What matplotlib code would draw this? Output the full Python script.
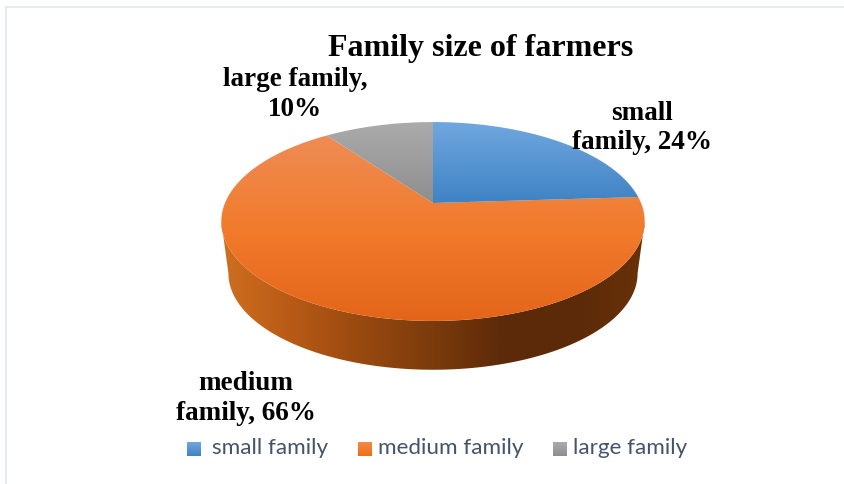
import numpy as np
import matplotlib
matplotlib.use('Agg')
import matplotlib.pyplot as plt
from matplotlib.colors import LinearSegmentedColormap
from matplotlib.patches import Polygon

categories = ['small family', 'medium family', 'large family']
shares = [24, 66, 10]
title = 'Family size of farmers'

# vertical shading for each slice, light to dark
TOP_COLORS = [('#70a7df', '#3f83c4'),
              ('#ee8c55', '#f27b2c', '#e3651a'),
              ('#ababab', '#8e8e8e')]
LEGEND_COLORS = [('#70a7df', '#3f83c4'), ('#f58a48', '#ee6d16'), ('#ababab', '#8e8e8e')]
SIDE_COLORS = ['#cf6f20', '#b85a16', '#98490f', '#7b3b0c', '#5c2a08', '#5c2a08', '#683209']

# perspective disc, in pixels
CX, APEX_Y = 433.0, 203.0
RX, RY, TILT = 208.0, 96.0, 0.186
LOWER_RX, LOWER_RY, LOWER_APEX_Y = 201.0, 93.0, 255.5

TEXT_FONT = 'Liberation Serif'
LEGEND_FONT = 'Lato'


def project(theta, rx=RX, ry=RY, apex_y=APEX_Y):
    # theta runs clockwise from the back of the disc
    u, v = np.sin(theta), np.cos(theta)
    den = 1 + TILT * v
    return CX + rx * u / den, apex_y - ry * v / den


def gradient_patch(ax, verts, colors, horizontal=False, extent=None, zorder=1):
    verts = np.asarray(verts)
    poly = Polygon(verts, closed=True, fc='none', ec='none', transform=ax.transData)
    ax.add_patch(poly)
    cmap = LinearSegmentedColormap.from_list('shade', colors)
    ramp = np.linspace(0, 1, 256)
    ramp = ramp[None, :] if horizontal else ramp[:, None]
    if extent is None:
        extent = [verts[:, 0].min(), verts[:, 0].max(), verts[:, 1].max(), verts[:, 1].min()]
    im = ax.imshow(ramp, cmap=cmap, extent=extent, aspect='auto', origin='upper',
                   interpolation='bilinear', zorder=zorder)
    im.set_clip_path(poly)
    return im


fig = plt.figure(figsize=(8.44, 4.84), dpi=100)
ax = fig.add_axes([0, 0, 1, 1])

# chart frame: only the top and left edges fall inside the canvas
ax.plot([6, 6], [484, 7], color='#e1e7f0', lw=1.2, zorder=0)
ax.plot([6, 844], [7, 7], color='#e3e7ea', lw=1.2, zorder=0)

# rim of the disc, front half only
start = np.arccos(-TILT)
front = np.linspace(start, 2 * np.pi - start, 200)
tx, ty = project(front)
bx, by = project(front, LOWER_RX, LOWER_RY, LOWER_APEX_Y)
rim = np.r_[np.c_[tx, ty], np.c_[bx, by][::-1]]
gradient_patch(ax, rim, SIDE_COLORS, horizontal=True,
               extent=[tx.min(), tx.max(), by.max(), ty.min()], zorder=1)

# slices
edges = np.r_[0, np.cumsum(shares)] / np.sum(shares) * 2 * np.pi
for i, share in enumerate(shares):
    theta = np.linspace(edges[i], edges[i + 1], 200)
    x, y = project(theta)
    verts = np.r_[[[CX, APEX_Y]], np.c_[x, y]]
    gradient_patch(ax, verts, TOP_COLORS[i], zorder=2 + (i != 1))

ax.text(481, 48.5, title, family=TEXT_FONT, weight='bold', fontsize=23,
        ha='center', va='center', color='black')

label_pos = [(642, 128), (246, 398.5), (295, 94.5)]
label_text = ['small\nfamily, %d%%', 'medium\nfamily, %d%%', 'large family,\n%d%%']
for txt, share, (lx, ly) in zip(label_text, shares, label_pos):
    ax.text(lx, ly, txt % share, family=TEXT_FONT, weight='bold', fontsize=19.5,
            ha='center', va='center', linespacing=1.26, color='black')

# legend
legend_box = [187, 357.5, 553]
legend_txt = [212, 377.5, 573]
for name, bx0, tx0, cols in zip(categories, legend_box, legend_txt, LEGEND_COLORS):
    gradient_patch(ax, [[bx0, 442], [bx0 + 14, 442], [bx0 + 14, 456], [bx0, 456]], cols, zorder=2)
    ax.text(tx0, 448, name, family=LEGEND_FONT, fontsize=16.2, color='#44546a',
            ha='left', va='center')

ax.set_xlim(0, 844)
ax.set_ylim(484, 0)
ax.axis('off')
fig.savefig('out.png', dpi=100, facecolor='white')
